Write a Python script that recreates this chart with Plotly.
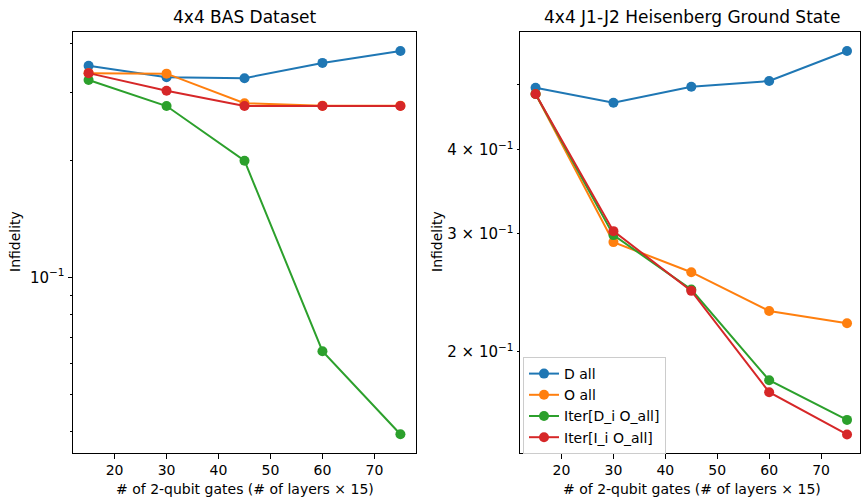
import plotly.graph_objects as go
import math

x_gates = [15, 30, 45, 60, 75]
series_names = ["D all", "O all", "Iter[D_i O_all]", "Iter[I_i O_all]"]
colors = ["#1f77b4", "#ff7f0e", "#2ca02c", "#d62728"]

# 4x4 BAS Dataset
bas_d_all = [0.351, 0.328, 0.326, 0.357, 0.383]
bas_o_all = [0.336, 0.335, 0.281, 0.277, 0.277]
bas_iter_d = [0.3225, 0.2764, 0.1998, 0.0645, 0.0394]
bas_iter_i = [0.336, 0.3027, 0.2764, 0.2764, 0.2764]

# 4x4 J1-J2 Heisenberg Ground State
heis_d_all = [0.495, 0.470, 0.4967, 0.5065, 0.5615]
heis_o_all = [0.4844, 0.2913, 0.2627, 0.230, 0.2205]
heis_iter_d = [0.4844, 0.2984, 0.2475, 0.1813, 0.1582]
heis_iter_i = [0.4844, 0.3025, 0.2464, 0.174, 0.1505]

bas_series = [bas_d_all, bas_o_all, bas_iter_d, bas_iter_i]
heis_series = [heis_d_all, heis_o_all, heis_iter_d, heis_iter_i]

FONT = "DejaVu Sans"
TICK = 14
fig = go.Figure()

for i, (name, ys) in enumerate(zip(series_names, bas_series)):
    fig.add_trace(go.Scatter(x=x_gates, y=ys, mode="lines+markers", name=name,
                             line=dict(color=colors[i], width=2),
                             marker=dict(color=colors[i], size=10),
                             xaxis="x", yaxis="y", showlegend=False))
for i, (name, ys) in enumerate(zip(series_names, heis_series)):
    fig.add_trace(go.Scatter(x=x_gates, y=ys, mode="lines+markers", name=name,
                             line=dict(color=colors[i], width=2),
                             marker=dict(color=colors[i], size=10),
                             xaxis="x2", yaxis="y2", showlegend=True))

W, H = 861, 500
ax_common = dict(showline=True, linecolor="black", linewidth=1, mirror=True,
                 showgrid=False, zeroline=False, ticks="outside", tickcolor="black")

xticks = [20, 30, 40, 50, 60, 70]

fig.update_layout(
    width=W, height=H, margin=dict(l=0, r=0, t=0, b=0),
    plot_bgcolor="white", paper_bgcolor="white",
    font=dict(family=FONT, color="black", size=TICK),
    xaxis=dict(domain=[73 / W, 416 / W], range=[12, 78], tickvals=xticks,
               ticklen=4.5, anchor="y", tickfont=dict(family=FONT, size=TICK, color="black"),
               **ax_common),
    yaxis=dict(domain=[1 - 453 / H, 1 - 32 / H], type="log",
               range=[math.log10(0.03525), math.log10(0.4289)],
               tickvals=[0.1], ticktext=["10<sup>−1</sup>"], ticklen=4.5,
               tickfont=dict(family=FONT, size=15, color="black"),
               minor=dict(tickvals=[0.04, 0.05, 0.06, 0.07, 0.08, 0.09, 0.2, 0.3, 0.4],
                          ticklen=2.5, tickcolor="black", ticks="outside", showgrid=False),
               anchor="x", **ax_common),
    xaxis2=dict(domain=[520 / W, 860 / W], range=[12, 77.5], tickvals=xticks,
                ticklen=4.5, anchor="y2", tickfont=dict(family=FONT, size=TICK, color="black"),
                **ax_common),
    yaxis2=dict(domain=[1 - 453 / H, 1 - 32 / H], type="log",
                range=[math.log10(0.1412), math.log10(0.5994)],
                tickvals=[0.2, 0.3, 0.4, 0.5],
                ticktext=["2 × 10<sup>−1</sup>", "3 × 10<sup>−1</sup>", "4 × 10<sup>−1</sup>", ""],
                tickfont=dict(family=FONT, size=15, color="black"),
                ticklen=2.5, anchor="x2", **ax_common),
    legend=dict(x=523 / W, y=1 - 357 / H, xanchor="left", yanchor="top",
                bgcolor="rgba(255,255,255,0.8)", bordercolor="#cccccc", borderwidth=1,
                font=dict(family=FONT, size=14, color="black"),
                tracegroupgap=0, itemwidth=30),
)

ann = [
    dict(text="4x4 BAS Dataset", x=244.5 / W, y=1 - 17 / H, size=17, angle=0),
    dict(text="4x4 J1-J2 Heisenberg Ground State", x=691.5 / W, y=1 - 17 / H, size=17, angle=0),
    dict(text="# of 2-qubit gates (# of layers × 15)", x=244.5 / W, y=1 - 489 / H, size=TICK, angle=0),
    dict(text="# of 2-qubit gates (# of layers × 15)", x=691.5 / W, y=1 - 489 / H, size=TICK, angle=0),
    dict(text="Infidelity", x=15 / W, y=1 - 242 / H, size=TICK, angle=-90),
    dict(text="Infidelity", x=437 / W, y=1 - 242 / H, size=TICK, angle=-90),
]
for a in ann:
    fig.add_annotation(text=a["text"], x=a["x"], y=a["y"], xref="paper", yref="paper",
                       xanchor="center", yanchor="middle", showarrow=False,
                       textangle=a["angle"], font=dict(family=FONT, size=a["size"], color="black"))

fig.write_html("out.html", config={"displayModeBar": False},
               post_script="document.body.style.margin='0px';")
